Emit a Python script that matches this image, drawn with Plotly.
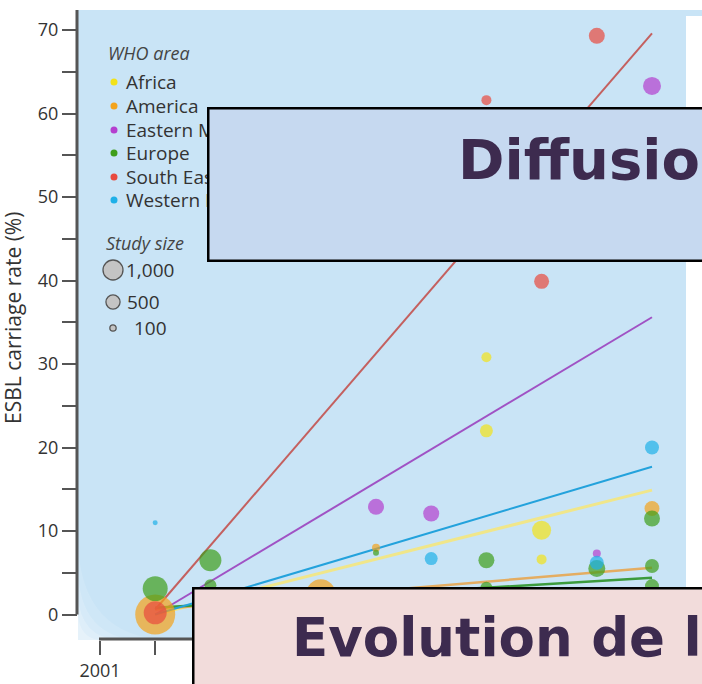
import numpy as np
import plotly.graph_objects as go

# ---------------- data ----------------
regions = ["Africa", "America", "Eastern Mediterranean", "Europe",
           "South East Asia", "Western Pacific"]

africa_years = [2008, 2008, 2009, 2009]
africa_rates = [30.8, 22.0, 10.1, 6.6]
africa_sizes = [250, 420, 900, 250]

america_years = [2002, 2005, 2006, 2011]
america_rates = [0.0, 2.5, 8.0, 12.7]
america_sizes = [4000, 2100, 160, 560]

eastmed_years = [2006, 2007, 2010, 2011]
eastmed_rates = [12.9, 12.1, 7.3, 63.3]
eastmed_sizes = [640, 640, 160, 810]

europe_years = [2002, 2003, 2003, 2006, 2008, 2008, 2010, 2011, 2011, 2011]
europe_rates = [3.1, 6.5, 3.5, 7.4, 6.5, 3.2, 5.5, 11.5, 5.8, 3.4]
europe_sizes = [1560, 1210, 360, 90, 640, 360, 720, 640, 490, 490]

seasia_years = [2002, 2008, 2009, 2010]
seasia_rates = [0.2, 61.6, 39.9, 69.3]
seasia_sizes = [1320, 250, 560, 640]

westpac_years = [2002, 2007, 2010, 2011]
westpac_rates = [11.0, 6.7, 6.2, 20.0]
westpac_sizes = [62, 420, 490, 490]

trend_years = [2002, 2011]
trend_start = [0.0, 0.6, 0.0, 0.8, 0.6, 0.0]   # per region, at 2002
trend_end = [14.9, 5.6, 35.6, 4.4, 69.6, 17.7]  # per region, at 2011

legend_sizes = [1000, 500, 100]
legend_size_labels = ["1,000", "500", "100"]

x_tick_years = list(range(2001, 2012))
x_tick_labels = ["2001", "", "", "", "", "", "", "", "", "", ""]  # others hidden under the box
y_tick_values = list(range(0, 71, 10))

# ---------------- styles ----------------
point_colors = {"Africa": "#f2e21a", "America": "#f3a31b",
                "Eastern Mediterranean": "#b43fcf", "Europe": "#3f9e1b",
                "South East Asia": "#e84a3f", "Western Pacific": "#1fb0e8"}
line_colors = {"Africa": "#f0e68a", "America": "#e4ad62",
               "Eastern Mediterranean": "#a052c4", "Europe": "#3c9b3c",
               "South East Asia": "#c4605f", "Western Pacific": "#23a2dc"}
line_widths = {"Africa": 3, "America": 2.5, "Eastern Mediterranean": 2,
               "Europe": 2.5, "South East Asia": 2, "Western Pacific": 2}

series = {
    "Africa": (africa_years, africa_rates, africa_sizes),
    "America": (america_years, america_rates, america_sizes),
    "Eastern Mediterranean": (eastmed_years, eastmed_rates, eastmed_sizes),
    "Europe": (europe_years, europe_rates, europe_sizes),
    "South East Asia": (seasia_years, seasia_rates, seasia_sizes),
    "Western Pacific": (westpac_years, westpac_rates, westpac_sizes),
}
draw_order = ["America", "Africa", "Eastern Mediterranean", "Europe",
              "Western Pacific", "South East Asia"]


def diameter(n):
    return 20 * np.sqrt(np.asarray(n, dtype=float) / 1000.0)


W, H = 702, 684
L, R, T, B = 78, 702, 10, 640


def fx(x):
    return (x - L) / (R - L)


def fy(y):
    return (B - y) / (B - T)


FONT = "Open Sans"
TXT = "#333333"
AX = "#555555"

fig = go.Figure()

# trend lines
for i, reg in enumerate(regions):
    fig.add_trace(go.Scatter(
        x=trend_years, y=[trend_start[i], trend_end[i]], mode="lines",
        line=dict(color=line_colors[reg], width=line_widths[reg]),
        showlegend=False, hoverinfo="skip"))

# points
for reg in draw_order:
    yrs, rates, sizes = series[reg]
    fig.add_trace(go.Scatter(
        x=yrs, y=rates, mode="markers", name=reg,
        marker=dict(color=point_colors[reg], size=diameter(sizes),
                    line=dict(width=0)),
        showlegend=False))

shapes = []
# white area at right
shapes.append(dict(type="rect", xref="paper", yref="paper", x0=fx(686), x1=1.0,
                   y0=0, y1=fy(16), fillcolor="white", line=dict(width=0),
                   layer="below"))
# soft white fade in bottom-left corner
for (ytop, xright, op) in [(540, 170, 0.12), (570, 140, 0.15), (595, 120, 0.2), (615, 100, 0.25)]:
    shapes.append(dict(type="path", xref="paper", yref="paper",
                       path=f"M {fx(78)} {fy(ytop)} Q {fx(80)} {fy(638)} {fx(xright)} {fy(640)} L {fx(78)} {fy(640)} Z",
                       fillcolor="white", opacity=op, line=dict(width=0), layer="below"))
# axis lines
shapes.append(dict(type="line", xref="paper", yref="y", x0=fx(77), x1=fx(77),
                   y0=0, y1=72.4, line=dict(color=AX, width=3)))
shapes.append(dict(type="line", xref="paper", yref="paper", x0=fx(99), x1=1.0,
                   y0=fy(639), y1=fy(639), line=dict(color=AX, width=3)))

# legend dots
legend_rows_y = [82, 106, 130, 153, 177, 200]
for reg, yy in zip(regions, legend_rows_y):
    shapes.append(dict(type="circle", xref="paper", yref="paper",
                       xsizemode="pixel", ysizemode="pixel",
                       xanchor=fx(114), yanchor=fy(yy),
                       x0=-3.5, x1=3.5, y0=-3.5, y1=3.5,
                       fillcolor=point_colors[reg], line=dict(width=0)))
# legend study size circles
size_rows_y = [270, 302, 328]
for n, yy in zip(legend_sizes, size_rows_y):
    r = float(diameter(n)) / 2
    shapes.append(dict(type="circle", xref="paper", yref="paper",
                       xsizemode="pixel", ysizemode="pixel",
                       xanchor=fx(113), yanchor=fy(yy),
                       x0=-r, x1=r, y0=-r, y1=r,
                       fillcolor="#c4c4c4", line=dict(color="#555555", width=1.3)))

annotations = []
annotations.append(dict(text="ESBL carriage rate (%)", textangle=-90,
                        xref="paper", yref="paper", x=fx(13), y=fy(318),
                        xanchor="center", yanchor="middle",
                        showarrow=False, font=dict(family=FONT, size=21, color=TXT)))
annotations.append(dict(text="<i>WHO area</i>", xref="paper", yref="paper",
                        x=fx(106), y=fy(53), xanchor="left", yanchor="middle",
                        showarrow=False, font=dict(family=FONT, size=18, color="#444444")))
for reg, yy in zip(regions, legend_rows_y):
    annotations.append(dict(text=reg, xref="paper", yref="paper",
                            x=fx(124), y=fy(yy), xanchor="left", yanchor="middle",
                            showarrow=False, font=dict(family=FONT, size=19, color=TXT)))
annotations.append(dict(text="<i>Study size</i>", xref="paper", yref="paper",
                        x=fx(104), y=fy(243), xanchor="left", yanchor="middle",
                        showarrow=False, font=dict(family=FONT, size=18, color="#444444")))
for lab, yy, xx in zip(legend_size_labels, size_rows_y, [124, 125, 132]):
    annotations.append(dict(text=lab, xref="paper", yref="paper",
                            x=fx(xx), y=fy(yy), xanchor="left", yanchor="middle",
                            showarrow=False, font=dict(family=FONT, size=19, color=TXT)))

# overlay boxes (as annotations so they hide text underneath)
BW = 2.5
annotations.append(dict(text=" ", xref="paper", yref="paper",
                        x=fx(207), y=fy(107), xanchor="left", yanchor="top",
                        width=520 - 2 * BW, height=155 - 2 * BW, showarrow=False,
                        bgcolor="#c6d9f0", bordercolor="black", borderwidth=BW,
                        borderpad=0))
annotations.append(dict(text=" ", xref="paper", yref="paper",
                        x=fx(192), y=fy(587), xanchor="left", yanchor="top",
                        width=535 - 2 * BW, height=120 - 2 * BW, showarrow=False,
                        bgcolor="#f2dcdb", bordercolor="black", borderwidth=BW,
                        borderpad=0))
annotations.append(dict(text="Diffusio", xref="paper", yref="paper",
                        x=fx(456), y=fy(159), xanchor="left", yanchor="middle",
                        showarrow=False,
                        font=dict(family="DejaVu Sans", size=56, color="#3d2b4f", weight="bold")))
annotations.append(dict(text="Evolution de l", xref="paper", yref="paper",
                        x=fx(290), y=fy(637), xanchor="left", yanchor="middle",
                        showarrow=False,
                        font=dict(family="DejaVu Sans", size=53, color="#3d2b4f", weight="bold")))

fig.update_layout(
    width=W, height=H,
    margin=dict(l=L, r=W - R, t=T, b=H - B, pad=0),
    paper_bgcolor="white", plot_bgcolor="#c9e4f6",
    showlegend=False,
    xaxis=dict(range=[2001 - 22 / 55.2, 2001 + (R - 100) / 55.2],
               showgrid=False, zeroline=False, showline=False,
               tickvals=x_tick_years, ticktext=x_tick_labels,
               ticks="outside", ticklen=14, tickwidth=2, tickcolor=AX,
               tickfont=dict(family=FONT, size=18, color=TXT)),
    yaxis=dict(range=[(614.5 - B) / 8.35, (614.5 - T) / 8.35],
               showgrid=False, zeroline=False, showline=False,
               tickvals=y_tick_values, ticks="outside", ticklen=15,
               tickwidth=2, tickcolor=AX,
               minor=dict(dtick=5, tick0=0, ticks="outside", ticklen=15,
                          tickwidth=2, tickcolor=AX, showgrid=False),
               tickfont=dict(family=FONT, size=18, color=TXT)),
    shapes=shapes,
    annotations=annotations,
)

fig.write_html("out.html")
